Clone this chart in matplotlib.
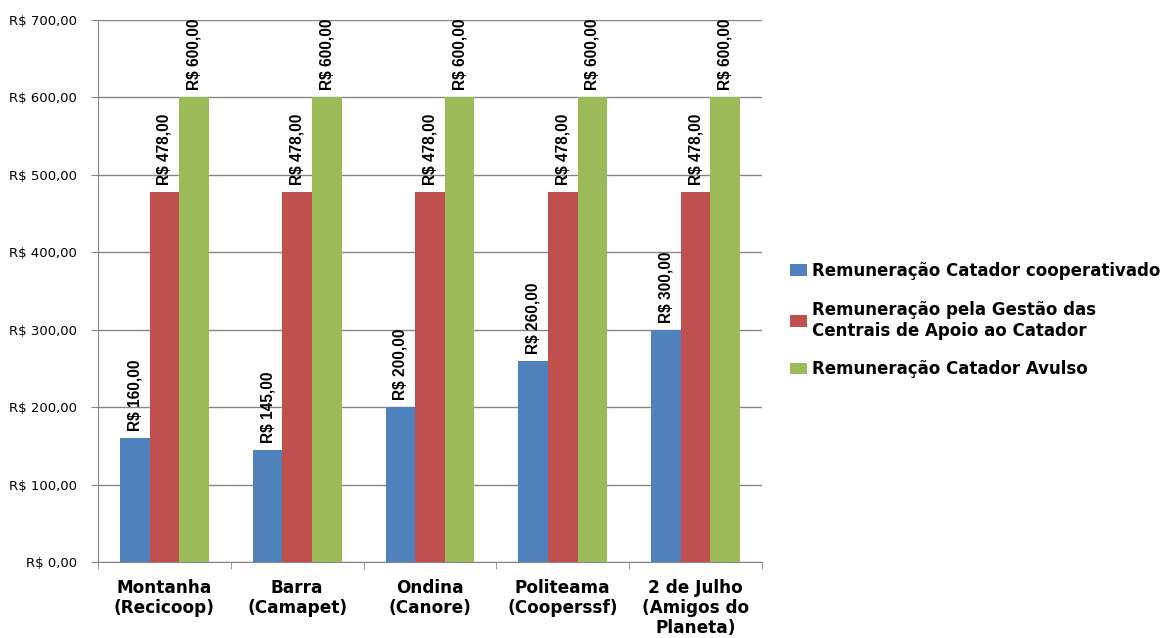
import numpy as np
import matplotlib.pyplot as plt
from matplotlib.ticker import FuncFormatter, FixedLocator

# Remuneração mensal por central
centrais = ['Montanha\n(Recicoop)', 'Barra\n(Camapet)', 'Ondina\n(Canore)',
            'Politeama\n(Cooperssf)', '2 de Julho\n(Amigos do\nPlaneta)']
cooperativado = [160, 145, 200, 260, 300]
gestao = [478, 478, 478, 478, 478]
avulso = [600, 600, 600, 600, 600]

series = [
    ('Remuneração Catador cooperativado', cooperativado, '#4f81bd'),
    ('Remuneração pela Gestão das\nCentrais de Apoio ao Catador', gestao, '#c0504d'),
    ('Remuneração Catador Avulso', avulso, '#9bbb59'),
]

def reais(v):
    return 'R$ ' + f'{v:,.2f}'.replace(',', 'X').replace('.', ',').replace('X', '.')

fig = plt.figure(figsize=(11.74, 6.38), dpi=100)
ax = fig.add_axes([0.0835, 0.119, 0.5655, 0.85])

x = np.arange(len(centrais))
w = 0.223
for i, (nome, vals, cor) in enumerate(series):
    pos = x + (i - 1) * w
    ax.bar(pos, vals, w, color=cor, label=nome, zorder=3)
    for p, v in zip(pos, vals):
        ax.annotate(reais(v), (p, v), xytext=(0, 5), textcoords='offset points',
                    rotation=90, ha='center', va='bottom', fontsize=11.2,
                    fontweight='bold', family=['Liberation Sans', 'DejaVu Sans'],
                    zorder=4)

ax.set_xlim(-0.5, len(centrais) - 0.5)
ax.set_ylim(0, 700)
ax.set_yticks(np.arange(0, 701, 100))
ax.yaxis.set_major_formatter(FuncFormatter(lambda v, _: reais(v)))
ax.grid(axis='y', color='#868686', lw=1, zorder=0)

ax.set_xticks(x)
ax.set_xticklabels(centrais, fontsize=12.2, fontweight='bold', va='top',
                   linespacing=1.15)
ax.xaxis.set_minor_locator(FixedLocator(np.arange(-0.5, len(centrais), 1)))
ax.tick_params(axis='x', which='major', length=0, pad=12)
ax.tick_params(axis='x', which='minor', length=5, color='#868686')
ax.tick_params(axis='y', length=5, color='#868686', labelsize=9.5, pad=10)

for s in ['top', 'right']:
    ax.spines[s].set_visible(False)
for s in ['left', 'bottom']:
    ax.spines[s].set_color('#868686')

leg = fig.legend(loc='upper left', bbox_to_anchor=(0.66, 0.613), frameon=False,
                 prop={'weight': 'bold', 'size': 12.0}, handlelength=1.0,
                 handleheight=0.7, handletextpad=0.3, labelspacing=1.25)

fig.savefig('out.png', dpi=100)
